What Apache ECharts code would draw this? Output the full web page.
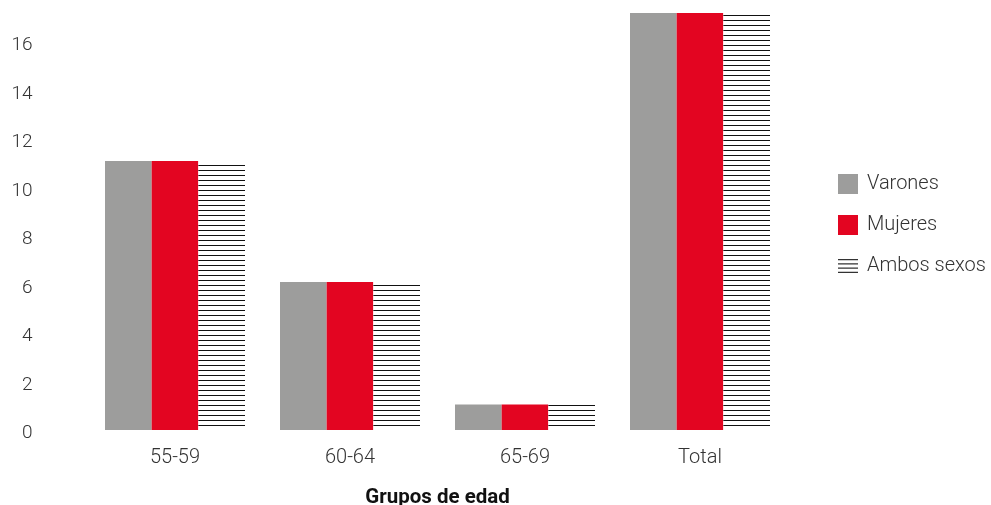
<!DOCTYPE html>
<html>
<head>
<meta charset="utf-8">
<script src="https://cdn.jsdelivr.net/npm/echarts@6/dist/echarts.min.js"></script>
<style>
  html, body { margin: 0; padding: 0; background: #fff; }
  #chart { width: 991px; height: 505px; }
</style>
</head>
<body>
<div id="chart"></div>
<script>
// Age groups and values per sex
const categories = ['55-59', '60-64', '65-69', 'Total'];
const varones = [11.1, 6.1, 1.05, 17.2];
const mujeres = [11.1, 6.1, 1.05, 17.2];
const ambosSexos = [11.1, 6.1, 1.05, 17.2];
const seriesNames = ['Varones', 'Mujeres', 'Ambos sexos'];

const FONT = 'Roboto';
const GRAY = '#9d9d9c';
const RED = '#e30521';

const chart = echarts.init(document.getElementById('chart'), null, { renderer: 'canvas' });

// horizontal hatching for the combined series
const stripeDecal = {
  symbol: 'rect',
  symbolSize: 1,
  color: '#111',
  dashArrayX: [1, 0],
  dashArrayY: [0.9, 3.55],
  rotation: 0
};

chart.setOption({
  animation: false,
  backgroundColor: '#fff',
  grid: { left: 87.5, width: 700, top: 13, bottom: 75, containLabel: false, outerBoundsMode: 'none' },
  legend: {
    orient: 'vertical',
    left: 838,
    top: 174,
    padding: 0,
    itemWidth: 20,
    itemHeight: 20,
    itemGap: 21,
    textStyle: { fontFamily: FONT, fontSize: 20, fontWeight: 300, color: '#333', padding: [0, 0, 0, 4] },
    data: [
      { name: seriesNames[0], icon: 'rect' },
      { name: seriesNames[1], icon: 'rect' },
      { name: seriesNames[2], icon: 'path://M0,0H20V1.2H0Z M0,4.3H20V5.5H0Z M0,8.6H20V9.8H0Z M0,12.9H20V14.1H0Z',
        itemStyle: { color: '#333', decal: 'none' } }
    ]
  },
  xAxis: {
    type: 'category',
    data: categories,
    axisLine: { show: false },
    axisTick: { show: false },
    axisLabel: { margin: 18, fontFamily: FONT, fontSize: 20, fontWeight: 300, color: '#333' },
    name: 'Grupos de edad',
    nameLocation: 'middle',
    nameGap: 57,
    nameTextStyle: { fontFamily: FONT, fontSize: 20.5, fontWeight: 'bold', color: '#111' }
  },
  yAxis: {
    type: 'value',
    min: 0,
    max: 17.2,
    interval: 2,
    splitLine: { show: false },
    axisLine: { show: false },
    axisTick: { show: false },
    axisLabel: { showMaxLabel: false, margin: 55, verticalAlign: 'top', lineHeight: 7, fontFamily: FONT, fontSize: 19, fontWeight: 300, color: '#333' }
  },
  series: [
    { name: seriesNames[0], type: 'bar', data: varones, barGap: '0%', barCategoryGap: '20%',
      itemStyle: { color: GRAY } },
    { name: seriesNames[1], type: 'bar', data: mujeres, barGap: '0%', barCategoryGap: '20%',
      itemStyle: { color: RED } },
    { name: seriesNames[2], type: 'bar', data: ambosSexos, barGap: '0%', barCategoryGap: '20%',
      itemStyle: { color: '#fff', decal: stripeDecal } }
  ]
});
</script>
</body>
</html>
